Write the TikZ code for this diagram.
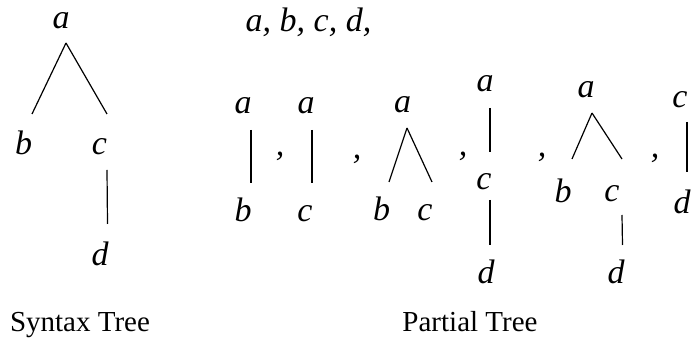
\documentclass[tikz,border=0pt]{standalone}
\usepackage{fontspec}
\setmainfont{Liberation Serif}
\usepackage{tikz}
\usetikzlibrary{calc}

\begin{document}
\begin{tikzpicture}[x=1pt,y=-1pt,
  lbl/.style={font=\fontsize{34}{40}\selectfont\itshape, inner sep=0pt},
  ttl/.style={font=\fontsize{29}{34}\selectfont, anchor=base},
  br/.style={line width=1.2pt}]
\useasboundingbox (0,0) rectangle (691,344);

%%% SYNTAX TREE
\node[lbl] (sa) at (61,20.5) {a};
\node[lbl] (sb) at (23.5,143) {b};
\node[lbl] (sc) at (99.5,146.5) {c};
\node[lbl] (sd) at (100,254) {d};

% branches
\draw[br] ($(sa)+(5,22.5)$) -- ($(sb)+(8.5,-29)$);
\draw[br] ($(sa)+(5,22.5)$) -- ($(sc)+(7.5,-32.5)$);
\draw[br] ($(sc)+(7.5,23.5)$) -- ($(sd)+(7.5,-30)$);

\node[ttl] (syn) at (80,332) {Syntax Tree};

%%% PARTIAL TREES
% the node list on top
\node[lbl] (lst) at (308.5,22) {a, b, c, d,};

% separating commas
\foreach \x/\y [count=\i] in {280/156,357/159,463/156,542/157,655/158}
  \node[lbl] (cm\i) at (\x,\y) {,};

% a -- b
\node[lbl] (pa1) at (243,106) {a};
\node[lbl] (pb1) at (243,209.5) {b};
\draw[br] ($(pa1)+(8,24)$) -- ($(pb1)+(8,-26.5)$);

% a -- c
\node[lbl] (pa2) at (306,106) {a};
\node[lbl] (pc2) at (305,214) {c};
\draw[br] ($(pa2)+(6,24)$) -- ($(pc2)+(7,-31)$);

% a -- (b, c)
\node[lbl] (pa3) at (402.5,104.5) {a};
\node[lbl] (pb3) at (381.5,209) {b};
\node[lbl] (pc3) at (425,212.5) {c};
\draw[br] ($(pa3)+(4.5,23.5)$) -- ($(pb3)+(7.5,-27)$);
\draw[br] ($(pa3)+(4.5,23.5)$) -- ($(pc3)+(7,-30.5)$);

% a -- c -- d
\node[lbl] (pa4) at (485,84) {a};
\node[lbl] (pc4) at (484,182) {c};
\node[lbl] (pd4) at (486,272) {d};
\draw[br] ($(pa4)+(5,24)$) -- ($(pc4)+(6,-30)$);
\draw[br] ($(pc4)+(6,18)$) -- ($(pd4)+(4,-27)$);

% a -- (b, c -- d)
\node[lbl] (pa5) at (586,90) {a};
\node[lbl] (pb5) at (563,191) {b};
\node[lbl] (pc5) at (612,194) {c};
\node[lbl] (pd5) at (616,272) {d};
\draw[br] ($(pa5)+(6,23)$) -- ($(pb5)+(9,-32)$);
\draw[br] ($(pa5)+(6,23)$) -- ($(pc5)+(10,-35)$);
\draw[br] ($(pc5)+(10,21)$) -- ($(pd5)+(6.5,-27)$);

% c -- d
\node[lbl] (pc6) at (680,100) {c};
\node[lbl] (pd6) at (682,202) {d};
\draw[br] ($(pc6)+(7,22)$) -- ($(pd6)+(5,-30)$);

\node[ttl] (par) at (470,332) {Partial Tree};
\end{tikzpicture}
\end{document}
